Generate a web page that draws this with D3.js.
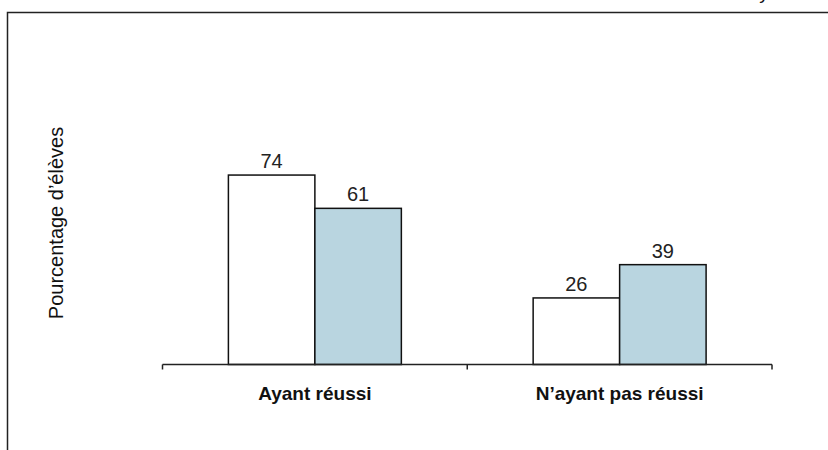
<!DOCTYPE html>
<html>
<head>
<meta charset="utf-8">
<script src="https://cdn.jsdelivr.net/npm/d3@7"></script>
<style>
  body { margin: 0; background: #fff; }
  svg { display: block; }
</style>
</head>
<body>
<svg class="svgWrapper" width="828" height="450"></svg>
<script>
// data
const categories = ['Ayant réussi', 'N’ayant pas réussi'];
const seriesKeys = ['a', 'b'];
const seriesA = [74, 26];
const seriesB = [61, 39];
const yAxisTitle = 'Pourcentage d’élèves';
const clippedTitle = 'y';

const rows = categories.map((c, i) => ({ cat: c, a: seriesA[i], b: seriesB[i] }));

const svgObj = d3.select('.svgWrapper');
const font = 'Arial, "Liberation Sans", sans-serif';

// frame round the chart
svgObj.append('rect')
	.attr('x', 7.5).attr('y', 12.5)
	.attr('width', 840).attr('height', 460)
	.attr('fill', 'none')
	.attr('stroke', '#222')
	.attr('stroke-width', 1.5);

// piece of a title cut off by the top edge
svgObj.append('text')
	.attr('x', 764).attr('y', -1)
	.attr('text-anchor', 'middle')
	.attr('font-family', font)
	.attr('font-size', 19)
	.attr('fill', '#111')
	.text(clippedTitle);

const x0 = d3.scaleBand().domain(categories).range([162.5, 772]).padding(0);
const x1 = d3.scaleBand().domain(seriesKeys).range([0, x0.bandwidth()])
	.paddingInner(0).paddingOuter(0.762);
const y = d3.scaleLinear().domain([0, 100]).range([364.5, 108.5]);
const colorScale = d3.scaleOrdinal().domain(seriesKeys).range(['#ffffff', '#b9d5e0']);

const groups = svgObj.append('g').selectAll('g')
	.data(rows)
	.join('g')
	.attr('transform', d => `translate(${x0(d.cat)},0)`);

groups.selectAll('rect')
	.data(d => seriesKeys.map(k => ({ key: k, value: d[k] })))
	.join('rect')
	.attr('x', d => x1(d.key))
	.attr('y', d => y(d.value))
	.attr('width', x1.bandwidth())
	.attr('height', d => y(0) - y(d.value))
	.attr('fill', d => colorScale(d.key))
	.attr('stroke', '#111')
	.attr('stroke-width', 1.5);

groups.selectAll('text')
	.data(d => seriesKeys.map(k => ({ key: k, value: d[k] })))
	.join('text')
	.attr('x', d => x1(d.key) + x1.bandwidth() / 2)
	.attr('y', d => y(d.value) - 7)
	.attr('text-anchor', 'middle')
	.attr('font-family', font)
	.attr('font-size', 20)
	.attr('fill', '#222')
	.text(d => d.value);

// x axis: baseline with ticks at category boundaries
const axisG = svgObj.append('g').attr('transform', `translate(0,${y(0)})`);
axisG.append('line')
	.attr('x1', x0.range()[0]).attr('x2', x0.range()[1])
	.attr('stroke', '#222').attr('stroke-width', 1.5);
const bounds = categories.map(c => x0(c)).concat([x0.range()[1]]);
axisG.selectAll('.tick')
	.data(bounds)
	.join('line')
	.attr('class', 'tick')
	.attr('x1', d => d).attr('x2', d => d)
	.attr('y1', 0).attr('y2', 5)
	.attr('stroke', '#222').attr('stroke-width', 1.5);

axisG.selectAll('.catLabel')
	.data(categories)
	.join('text')
	.attr('class', 'catLabel')
	.attr('x', d => x0(d) + x0.bandwidth() / 2)
	.attr('y', 35)
	.attr('text-anchor', 'middle')
	.attr('font-family', font)
	.attr('font-weight', 'bold')
	.attr('font-size', 19)
	.attr('fill', '#111')
	.text(d => d);

// y axis title
svgObj.append('text')
	.attr('transform', 'translate(63,223) rotate(-90)')
	.attr('text-anchor', 'middle')
	.attr('font-family', font)
	.attr('font-size', 20)
	.attr('fill', '#111')
	.text(yAxisTitle);
</script>
</body>
</html>
